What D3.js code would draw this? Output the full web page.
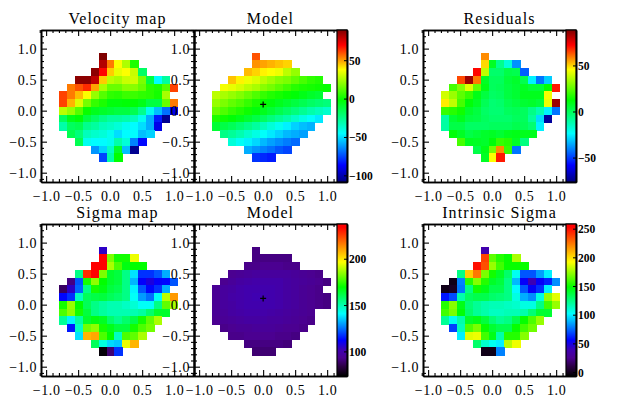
<!DOCTYPE html>
<html>
<head>
<meta charset="utf-8">
<title>Kinematic maps</title>
<script src="https://cdn.jsdelivr.net/npm/d3@7"></script>
<style>
    body { margin: 0; background: #fff; }
    svg { display: block; }
    text { font-family: "Liberation Serif", serif; fill: #000; }
    .title { font-size: 16px; letter-spacing: 1.1px; text-anchor: middle; }
    .axis text { font-size: 14px; letter-spacing: .6px; }
    .axis path, .axis line { stroke: #000; }
    .barlabel { font-size: 11.5px; font-weight: bold; }
</style>
</head>
<body>
<script>
// first filled column of each row, the rows all share this outline
var rowStart = [5, 5, 4, 2, 1, 0, 0, 0, 0, 0, 1, 2, 4, 5]

var velocityMap = [
    [90],
    [82, 55, 38, 26, 3],
    [88, 70, 45, 35, 38, 30, -18],
    [88, 88, 80, 45, 28, 25, 30, 31, 18, -12, -45, -28],
    [55, 60, 65, 50, 25, 15, 15, 20, 20, 15, 5, 3, 12, 62],
    [62, 55, 47, 38, 22, 12, 6, 5, 8, 8, 6, 5, 2, 25],
    [62, 48, 33, 17, 7, 3, -3, -3, -2, -2, -5, -12, -12, 15, 55],
    [28, 22, 12, 0, -6, -8, -10, -12, -12, -15, -25, -42, -55, -68, -90],
    [-17, -5, -2, -12, -18, -24, -28, -28, -30, -33, -42, -58, -82, -105],
    [-30, -17, -15, -25, -28, -33, -35, -38, -42, -45, -50, -58, -90],
    [-15, -22, -33, -36, -38, -42, -50, -45, -45, -55, -52],
    [-15, -42, -45, -45, -42, -30, -38, -65, -85],
    [-62, -52, -35, -8, -55, -105],
    [-75, -30, -1]
]
var velocityModel = [
    [60],
    [52, 50, 48, 46, 44],
    [47, 44, 40, 38, 36, 28, 22],
    [46, 40, 36, 33, 28, 24, 20, 18, 14, 10, 6, 4],
    [37, 35, 32, 28, 25, 20, 17, 13, 9, 5, 3, 2, 1, 0],
    [28, 25, 22, 19, 15, 11, 7, 4, 2, 0, -2, -5, -8, -10],
    [22, 18, 14, 11, 7, 3, 0, -3, -6, -9, -12, -15, -18, -20, -22],
    [15, 11, 7, 4, 1, -3, -6, -10, -14, -18, -22, -26, -30, -33, -36],
    [3, 1, -2, -5, -9, -13, -17, -22, -26, -30, -35, -40, -44, -48],
    [-10, -13, -16, -20, -24, -28, -33, -38, -42, -47, -52, -55, -57],
    [-24, -27, -31, -36, -40, -44, -48, -52, -56, -58, -60],
    [-38, -43, -47, -51, -56, -60, -63, -66, -69],
    [-58, -62, -65, -68, -72, -75],
    [-78, -80, -82]
]
var residuals = [
    [58],
    [50, 8, -7, -18, -38],
    [72, 38, -2, -2, 3, 2, -45],
    [65, 85, 60, 8, 0, 0, 5, 7, 2, -25, -42, -30],
    [22, 30, 42, 26, 10, 0, 1, 4, 6, 8, 5, 5, 13, 70],
    [40, 33, 25, 20, 10, 4, -1, 0, 4, 6, 9, 9, 9, 45],
    [48, 38, 22, 12, 8, 1, -3, -2, 2, 4, 6, 7, 5, 44, 85],
    [20, 18, 15, 7, 4, -1, -3, -3, 0, 1, 0, -6, -12, -25, -42],
    [-10, 6, 9, 4, 3, 0, -2, -2, -2, 0, 0, -9, -28, -72],
    [-10, 3, 3, -1, -1, -1, 0, 0, 0, 2, 1, -3, -25],
    [12, 8, 3, 5, 7, 8, 6, 9, 10, 9, 9],
    [22, 9, 8, 7, 12, 20, 18, 8, -5],
    [3, 10, 28, 58, 20, -42],
    [8, 46, 70]
]
var sigmaMap = [
    [105],
    [235, 183, 172, 172, 195],
    [235, 235, 188, 178, 168, 170, 170],
    [155, 228, 235, 183, 165, 163, 155, 138, 118, 118, 122, 132],
    [92, 122, 172, 185, 170, 165, 163, 155, 133, 112, 108, 112, 113, 122],
    [88, 105, 124, 155, 172, 168, 163, 161, 155, 140, 122, 113, 118, 132],
    [113, 118, 148, 160, 162, 163, 160, 158, 155, 142, 130, 125, 142, 190, 212],
    [172, 186, 170, 160, 155, 152, 150, 150, 148, 146, 142, 142, 155, 180, 188],
    [178, 185, 172, 163, 155, 152, 150, 150, 150, 150, 152, 158, 165, 165],
    [153, 140, 152, 165, 168, 166, 158, 154, 158, 162, 172, 180, 188],
    [115, 148, 182, 185, 172, 167, 163, 163, 172, 178, 182],
    [138, 208, 210, 178, 170, 148, 178, 180, 188],
    [160, 145, 137, 135, 195, 208],
    [75, 90, 118]
]
var sigmaModel = [
    [92],
    [92, 92, 92, 92, 92],
    [93, 93, 94, 94, 94, 93, 93],
    [94, 95, 96, 97, 97, 97, 97, 97, 96, 95, 94, 93],
    [94, 96, 98, 99, 100, 100, 100, 100, 98, 97, 96, 95, 94, 92],
    [95, 97, 98, 100, 101, 101, 101, 101, 100, 98, 97, 95, 94, 93],
    [95, 97, 99, 100, 101, 102, 102, 101, 100, 98, 97, 95, 94, 93, 92],
    [95, 97, 98, 100, 101, 101, 101, 101, 100, 98, 97, 95, 94, 93, 92],
    [95, 96, 98, 99, 100, 100, 100, 99, 98, 97, 96, 95, 94],
    [94, 95, 96, 97, 98, 98, 98, 97, 97, 96, 95, 94, 93],
    [93, 94, 95, 95, 96, 96, 96, 95, 94, 94, 93],
    [93, 93, 94, 94, 94, 94, 93, 93, 92],
    [92, 92, 92, 92, 92, 91],
    [90, 90, 90]
]
var intrinsicSigma = [
    [38],
    [238, 165, 155, 150, 178],
    [250, 235, 175, 160, 150, 150, 150],
    [125, 205, 225, 170, 152, 142, 130, 105, 72, 72, 85, 100],
    [0, 80, 155, 172, 155, 142, 138, 125, 90, 55, 40, 55, 62, 82],
    [0, 3, 78, 125, 152, 145, 135, 135, 125, 102, 72, 55, 65, 100],
    [60, 70, 118, 132, 135, 135, 130, 128, 125, 108, 88, 82, 108, 175, 188],
    [155, 172, 145, 128, 122, 118, 116, 116, 114, 112, 108, 108, 125, 160, 175],
    [160, 170, 148, 130, 122, 118, 114, 114, 116, 116, 118, 128, 140, 140],
    [122, 105, 118, 142, 145, 138, 128, 122, 125, 135, 150, 162, 175],
    [68, 115, 162, 170, 150, 140, 135, 135, 150, 160, 168],
    [100, 188, 190, 160, 145, 118, 155, 155, 172],
    [130, 112, 105, 100, 180, 190],
    [0, 0, 80]
]

var panelTitles = ['Velocity map', 'Model', 'Residuals', 'Sigma map', 'Model', 'Intrinsic Sigma']
var panelValues = [velocityMap, velocityModel, residuals, sigmaMap, sigmaModel, intrinsicSigma]
var panelRanges = [[-108, 90], [-108, 90], [-76, 89], [74, 238], [74, 238], [-6, 259]]
var barTicks = [null, [-100, -50, 0, 50], [-50, 0, 50], null, [100, 150, 200], [0, 50, 100, 150, 200, 250]]
var crossPanels = [1, 4]
var crossPoint = [0, 0.1]

var majorTicks = [-1, -0.5, 0, 0.5, 1]
var minorTicks = [-1.1, -0.9, -0.8, -0.7, -0.6, -0.4, -0.3, -0.2, -0.1, 0.1, 0.2, 0.3, 0.4, 0.6, 0.7, 0.8, 0.9, 1.1, 1.2, 1.3]

// the two colour tables: position along the bar, colour
var jetStops = [[0, '#00007f'], [.11, '#0000ff'], [.32, '#00ffff'], [.54, '#00ff00'], [.74, '#ffff00'], [.9, '#ff0000'], [1, '#7f0000']]
var rainbowStops = [[0, '#000000'], [.06, '#2a0040'], [.12, '#4b0090'], [.17, '#4000b0'], [.235, '#0000ff'], [.41, '#00ffff'], [.585, '#00ff00'], [.75, '#ffff00'], [.98, '#ff0000'], [1, '#ff0000']]

var width = 623, height = 402
var panelW = 153, panelH = 152, barW = 10
var lefts = [41, 194, 423], tops = [30, 224]
var xMin = -1.08, xMax = 1.31, yMin = -1.15, yMax = 1.3
var cellW = 0.1235, cellH = 0.1248, firstX = -0.797, firstY = 0.935

var svg = d3.select('body').append('svg').attr('width', width).attr('height', height)

function tableScale(stops, range) {
    var span = range[1] - range[0]
    return d3.scaleLinear()
        .domain(stops.map(function (d) { return range[0] + d[0] * span }))
        .range(stops.map(function (d) { return d[1] }))
        .clamp(true)
}

function drawAxes(g, x, y) {
    var fmt = d3.format('.1f')
    var yMinor = minorTicks.filter(function (d) { return d > yMin })
    g.append('g').attr('class', 'axis').attr('transform', 'translate(0,' + panelH + ')')
        .call(d3.axisBottom(x).tickValues(majorTicks).tickFormat(fmt).tickSizeInner(-6).tickSizeOuter(0).tickPadding(9))
    g.append('g').attr('class', 'axis')
        .call(d3.axisLeft(y).tickValues(majorTicks).tickFormat(fmt).tickSizeInner(-6).tickSizeOuter(0).tickPadding(4))
    g.append('g').attr('class', 'axis').call(d3.axisTop(x).tickValues(majorTicks).tickFormat('').tickSizeInner(-6).tickSizeOuter(0))
    g.append('g').attr('class', 'axis').attr('transform', 'translate(' + panelW + ',0)')
        .call(d3.axisRight(y).tickValues(majorTicks).tickFormat('').tickSizeInner(-6).tickSizeOuter(0))

    g.append('g').attr('class', 'axis').attr('transform', 'translate(0,' + panelH + ')')
        .call(d3.axisBottom(x).tickValues(minorTicks).tickFormat('').tickSizeInner(-3).tickSizeOuter(0))
    g.append('g').attr('class', 'axis').call(d3.axisTop(x).tickValues(minorTicks).tickFormat('').tickSizeInner(-3).tickSizeOuter(0))
    g.append('g').attr('class', 'axis')
        .call(d3.axisLeft(y).tickValues(yMinor).tickFormat('').tickSizeInner(-3).tickSizeOuter(0))
    g.append('g').attr('class', 'axis').attr('transform', 'translate(' + panelW + ',0)')
        .call(d3.axisRight(y).tickValues(yMinor).tickFormat('').tickSizeInner(-3).tickSizeOuter(0))

    g.selectAll('.axis path').attr('stroke-width', 1.6)
    g.selectAll('.axis line').attr('stroke-width', 1.1)
}

function drawBar(g, range, stops, ticks) {
    var color = tableScale(stops, range)
    var y = d3.scaleLinear().domain(range).range([panelH, 0])
    var bar = g.append('g').attr('transform', 'translate(' + (panelW - barW) + ',0)')
    var steps = d3.range(panelH).map(function (i) { return y.invert(i + 0.5) })
    bar.selectAll('rect.step').data(steps).enter().append('rect')
        .attr('class', 'step')
        .attr('x', 0).attr('width', barW)
        .attr('y', function (d) { return y(d) - 0.5 }).attr('height', 1.2)
        .attr('fill', color)
    bar.append('rect').attr('width', barW).attr('height', panelH)
        .attr('fill', 'none').attr('stroke', '#000').attr('stroke-width', 1.2)
    bar.selectAll('line.tick').data(ticks).enter().append('line')
        .attr('class', 'tick')
        .attr('x1', barW - 3).attr('x2', barW)
        .attr('y1', y).attr('y2', y)
        .attr('stroke', '#000')
    bar.selectAll('text').data(ticks).enter().append('text')
        .attr('class', 'barlabel')
        .attr('x', barW + 2)
        .attr('y', function (d) { return y(d) + 4 })
        .text(d3.format('d'))
}

panelTitles.forEach(function (title, p) {
    var col = p % 3, row = Math.floor(p / 3)
    var g = svg.append('g').attr('transform', 'translate(' + lefts[col] + ',' + tops[row] + ')')
    var x = d3.scaleLinear().domain([xMin, xMax]).range([0, panelW])
    var y = d3.scaleLinear().domain([yMin, yMax]).range([panelH, 0])
    var stops = row === 0 ? jetStops : rainbowStops
    var color = tableScale(stops, panelRanges[p])

    var cells = []
    panelValues[p].forEach(function (vals, r) {
        vals.forEach(function (v, i) {
            cells.push({col: rowStart[r] + i, row: r, value: v})
        })
    })
    g.selectAll('rect.cell').data(cells).enter().append('rect')
        .attr('class', 'cell')
        .attr('x', function (d) { return x(firstX + d.col * cellW) })
        .attr('y', function (d) { return y(firstY - d.row * cellH) })
        .attr('width', x(cellW) - x(0) + 0.6)
        .attr('height', y(0) - y(cellH) + 0.6)
        .attr('shape-rendering', 'crispEdges')
        .attr('fill', function (d) { return color(d.value) })

    if (crossPanels.indexOf(p) >= 0) {
        g.append('path')
            .attr('transform', 'translate(' + x(crossPoint[0]) + ',' + y(crossPoint[1]) + ')')
            .attr('d', 'M-3,0H3M0,-3V3')
            .attr('stroke', '#000').attr('stroke-width', 1.2)
    }

    drawAxes(g, x, y)
    if (barTicks[p]) drawBar(g, panelRanges[p], stops, barTicks[p])

    g.append('text').attr('class', 'title')
        .attr('x', panelW / 2).attr('y', -6.5)
        .text(title)
})
</script>
</body>
</html>
